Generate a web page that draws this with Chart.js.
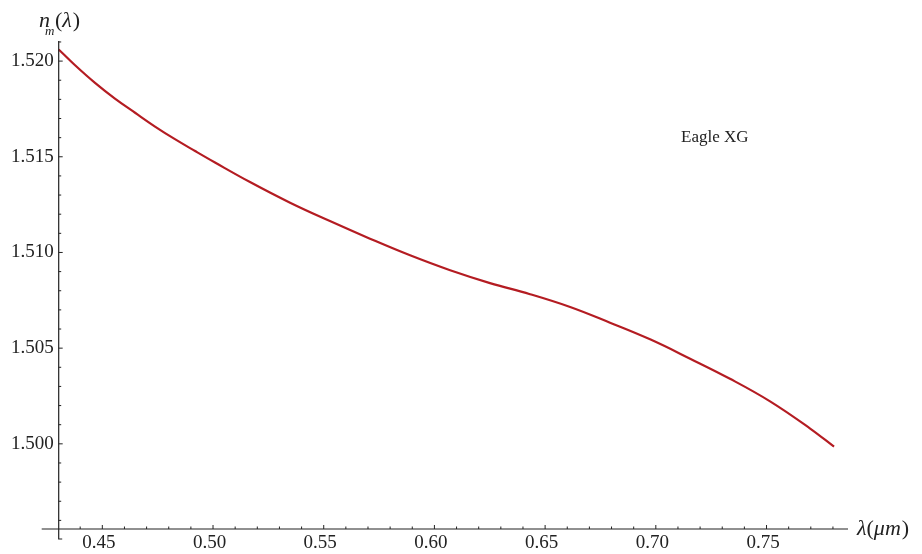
<!DOCTYPE html>
<html>
<head>
<meta charset="utf-8">
<script src="https://cdn.jsdelivr.net/npm/chart.js@4.4.0/dist/chart.umd.min.js"></script>
<style>
  html, body { margin: 0; padding: 0; background: #fff; }
  canvas { display: block; }
</style>
</head>
<body>
<canvas id="chart" width="922" height="554"></canvas>
<script>
// Wavelength (um) and refractive index
const lambdaValues = [0.4303, 0.4377, 0.4467, 0.4557, 0.4648, 0.4738, 0.4828, 0.4919, 0.5009,
    0.5167, 0.5348, 0.5528, 0.5709, 0.5890, 0.6071, 0.6251, 0.6432, 0.6613, 0.6793,
    0.6974, 0.7155, 0.7335, 0.7516, 0.7697, 0.7805];
const indexValues = [1.52061, 1.51978, 1.51886, 1.51804, 1.51730, 1.51658, 1.51592, 1.51530, 1.51470,
    1.51368, 1.51260, 1.51164, 1.51072, 1.50985, 1.50907, 1.50840, 1.50782, 1.50715, 1.50633,
    1.50546, 1.50445, 1.50340, 1.50222, 1.50080, 1.49985];

// Labelled ticks
const xMajorTicks = [0.45, 0.50, 0.55, 0.60, 0.65, 0.70, 0.75];
const yMajorTicks = [1.500, 1.505, 1.510, 1.515, 1.520];

const xRange = [0.4303, 0.7868];
const yRange = [1.49555, 1.52105];

const curveColor = 'rgb(180, 28, 34)';
const axisColor = '#222';
const serif = '"Liberation Serif", "DejaVu Serif", serif';

// minor ticks every 0.01 / 0.001 (axis decoration only)
function tickList(from, to, step, majors) {
    const out = [];
    const n = Math.round((to - from) / step);
    for (let i = 0; i <= n; i++) {
        const v = +(from + i * step).toFixed(4);
        out.push({ value: v, major: majors.some(m => Math.abs(m - v) < step / 10) });
    }
    return out;
}
const xTicks = tickList(0.44, 0.78, 0.01, xMajorTicks);
const yTicks = tickList(1.496, 1.521, 0.001, yMajorTicks);

// Axis lines, inward tick marks and the text labels
const axisDecor = {
    id: 'axisDecor',
    afterDraw(chart) {
        const ctx = chart.ctx;
        const xs = chart.scales.x;
        const ys = chart.scales.y;
        const x0 = chart.chartArea.left;
        const y0 = chart.chartArea.bottom;

        ctx.save();
        ctx.strokeStyle = axisColor;
        ctx.lineWidth = 1.2;
        ctx.beginPath();
        ctx.moveTo(x0 - 17, y0);
        ctx.lineTo(chart.chartArea.right, y0);
        ctx.moveTo(x0, chart.chartArea.top);
        ctx.lineTo(x0, y0 + 10);
        ctx.lineTo(x0 + 3.5, y0 + 10);
        ctx.stroke();

        ctx.lineWidth = 1;
        ctx.beginPath();
        xTicks.forEach(t => {
            const px = xs.getPixelForValue(t.value);
            ctx.moveTo(px, y0);
            ctx.lineTo(px, y0 - (t.major ? 4 : 2.5));
        });
        yTicks.forEach(t => {
            const py = ys.getPixelForValue(t.value);
            ctx.moveTo(x0, py);
            ctx.lineTo(x0 + (t.major ? 4 : 2.5), py);
        });
        ctx.stroke();

        ctx.fillStyle = '#222';
        ctx.textBaseline = 'alphabetic';
        ctx.textAlign = 'left';

        // legend text
        ctx.font = '17px ' + serif;
        ctx.fillText('Eagle XG', xs.getPixelForValue(0.7114), ys.getPixelForValue(1.51575));

        // y axis title: n_m(λ)
        let cx = 39;
        ctx.font = 'italic 22px ' + serif;
        ctx.fillText('n', cx, 27);
        ctx.font = 'italic 13px ' + serif;
        ctx.fillText('m', 45, 35);
        cx = 55;
        ctx.font = '22px ' + serif;
        ctx.fillText('(', cx, 27);
        cx += ctx.measureText('(').width;
        ctx.font = 'italic 22px ' + serif;
        ctx.fillText('λ', cx, 27);
        cx += ctx.measureText('λ').width + 1;
        ctx.font = '22px ' + serif;
        ctx.fillText(')', cx, 27);

        // x axis title: λ(μm)
        cx = 857;
        const by = 535;
        ctx.font = 'italic 22px ' + serif;
        ctx.fillText('λ', cx, by);
        cx += ctx.measureText('λ').width;
        ctx.font = '22px ' + serif;
        ctx.fillText('(', cx, by);
        cx += ctx.measureText('(').width;
        ctx.font = 'italic 22px ' + serif;
        ctx.fillText('μm', cx, by);
        cx += ctx.measureText('μm').width + 1;
        ctx.font = '22px ' + serif;
        ctx.fillText(')', cx, by);
        ctx.restore();
    }
};

const points = lambdaValues.map((l, i) => ({ x: l, y: indexValues[i] }));

new Chart(document.getElementById('chart'), {
    type: 'line',
    data: {
        datasets: [{
            label: 'Eagle XG',
            data: points,
            borderColor: curveColor,
            borderWidth: 2.2,
            pointRadius: 0,
            fill: false,
            tension: 0.4,
            clip: false
        }]
    },
    options: {
        responsive: false,
        animation: false,
        devicePixelRatio: 1,
        layout: { padding: { left: 0, right: 74, top: 41, bottom: 0 } },
        plugins: {
            legend: { display: false },
            tooltip: { enabled: false }
        },
        scales: {
            x: {
                type: 'linear',
                min: xRange[0],
                max: xRange[1],
                afterBuildTicks: (scale) => {
                    scale.ticks = xMajorTicks.map(v => ({ value: v }));
                },
                afterFit: (scale) => { scale.height = 25; },
                grid: { display: false, drawTicks: false },
                border: { display: false },
                ticks: {
                    autoSkip: false,
                    maxRotation: 0,
                    padding: 3,
                    labelOffset: -3.5,
                    color: '#222',
                    font: { family: serif, size: 19 },
                    callback: (v) => v.toFixed(2)
                }
            },
            y: {
                type: 'linear',
                min: yRange[0],
                max: yRange[1],
                afterBuildTicks: (scale) => {
                    scale.ticks = yMajorTicks.map(v => ({ value: v }));
                },
                afterFit: (scale) => { scale.width = 58.7; },
                grid: { display: false, drawTicks: false },
                border: { display: false },
                ticks: {
                    autoSkip: false,
                    padding: 5,
                    color: '#222',
                    font: { family: serif, size: 19 },
                    callback: (v) => v.toFixed(3)
                }
            }
        }
    },
    plugins: [axisDecor]
});
</script>
</body>
</html>
